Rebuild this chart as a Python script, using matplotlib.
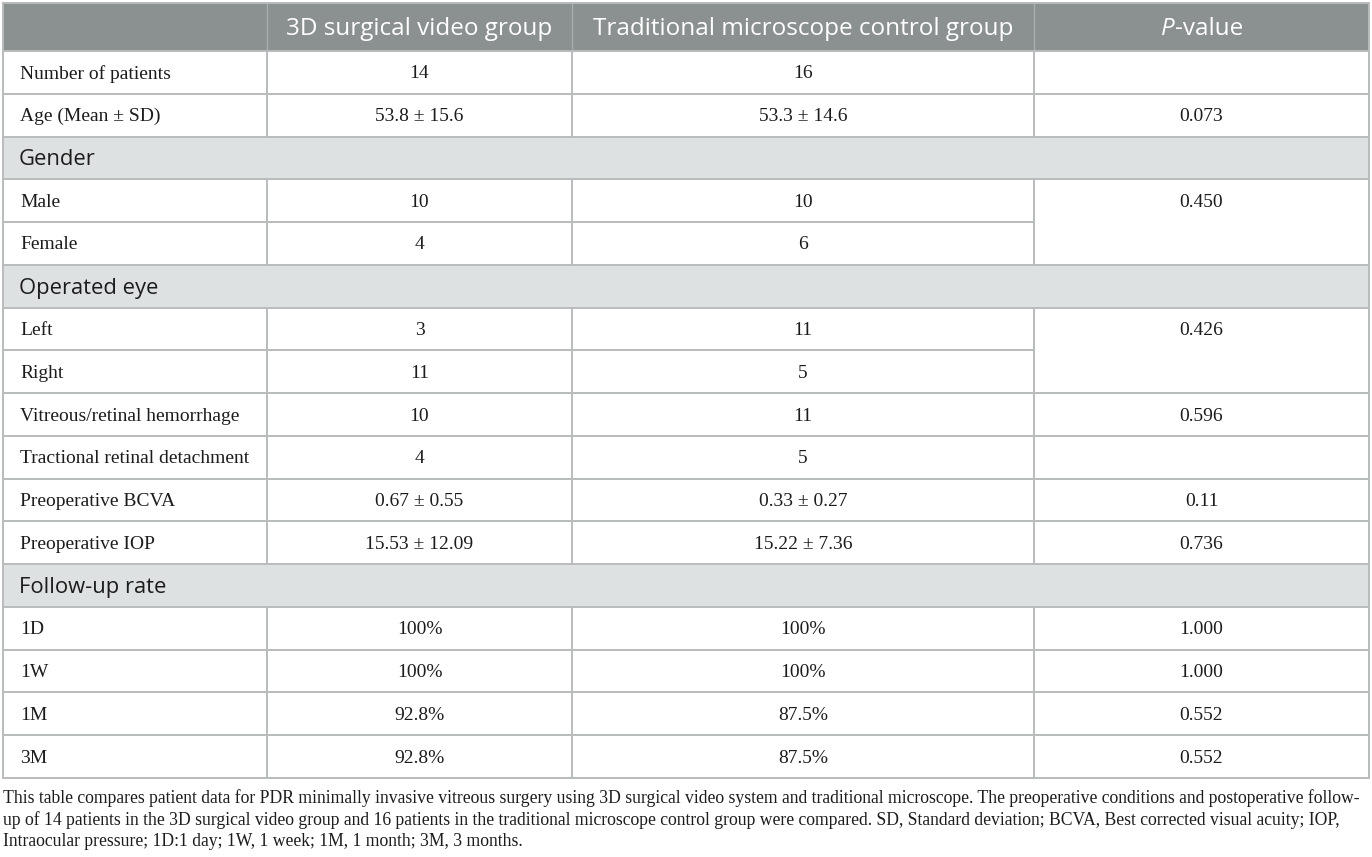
import matplotlib
matplotlib.use("Agg")
import matplotlib.pyplot as plt
from matplotlib.patches import Rectangle

# ---------------- data ----------------
col_headers = ["", "3D surgical video group", "Traditional microscope control group", "P-value"]
row_labels = ["Number of patients", "Age (Mean \u00b1 SD)", "Gender", "Male", "Female",
              "Operated eye", "Left", "Right", "Vitreous/retinal hemorrhage",
              "Tractional retinal detachment", "Preoperative BCVA", "Preoperative IOP",
              "Follow-up rate", "1D", "1W", "1M", "3M"]
is_section = [False, False, True, False, False, True, False, False, False,
              False, False, False, True, False, False, False, False]
group_3d = ["14", "53.8 \u00b1 15.6", "", "10", "4", "", "3", "11", "10", "4",
            "0.67 \u00b1 0.55", "15.53 \u00b1 12.09", "", "100%", "100%", "92.8%", "92.8%"]
group_ctrl = ["16", "53.3 \u00b1 14.6", "", "10", "6", "", "11", "5", "11", "5",
              "0.33 \u00b1 0.27", "15.22 \u00b1 7.36", "", "100%", "100%", "87.5%", "87.5%"]
p_values = ["", "0.073", "", "0.450", None, "", "0.426", None, "0.596", "",
            "0.11", "0.736", "", "1.000", "1.000", "0.552", "0.552"]   # None = merged with row above
caption_lines = [
    "This table compares patient data for PDR minimally invasive vitreous surgery using 3D surgical video system and traditional microscope. The preoperative conditions and postoperative follow-",
    "up of 14 patients in the 3D surgical video group and 16 patients in the traditional microscope control group were compared. SD, Standard deviation; BCVA, Best corrected visual acuity; IOP,",
    "Intraocular pressure; 1D:1 day; 1W, 1 week; 1M, 1 month; 3M, 3 months.",
]

# ---------------- layout ----------------
W, H = 1372, 857
col_x = [3, 267, 572, 1034, 1369]
top = 3
header_bottom = 51
table_bottom = 778
n_rows = len(row_labels)
row_h = (table_bottom - header_bottom) / n_rows

header_bg = "#8b9091"
section_bg = "#dde1e2"
line_c = "#b8bcbd"
text_c = "#1c1c1c"
serif = "Liberation Serif"
sans = "Open Sans"
body_fs = 14
head_fs = 17.5
sect_fs = 15.8

fig = plt.figure(figsize=(W / 100, H / 100), dpi=100)
ax = fig.add_axes([0, 0, 1, 1])
ax.set_xlim(0, W)
ax.set_ylim(H, 0)
ax.axis("off")

# header
ax.add_patch(Rectangle((col_x[0], top), col_x[-1] - col_x[0], header_bottom - top,
                       facecolor=header_bg, edgecolor="none"))
hy = (top + header_bottom) / 2 + 2
for j in (1, 2):
    ax.text((col_x[j] + col_x[j + 1]) / 2, hy, col_headers[j], ha="center", va="center",
            color="white", fontsize=head_fs, family=sans)
# P-value header: italic P + "-value"
fig.canvas.draw()
r = fig.canvas.get_renderer()
tP = ax.text(0, hy, "P", ha="left", va="center", color="white", fontsize=head_fs,
             family=sans, style="italic")
tV = ax.text(0, hy, "-value", ha="left", va="center", color="white", fontsize=head_fs, family=sans)
wP = tP.get_window_extent(r).width
wV = tV.get_window_extent(r).width
cx = (col_x[3] + col_x[4]) / 2
x0 = cx - (wP + wV) / 2
tP.set_x(x0)
tV.set_x(x0 + wP + 1)
# header vertical separators (light)
for j in (1, 2, 3):
    ax.plot([col_x[j], col_x[j]], [top, header_bottom], color="#a9adae", lw=1.0)

# body
for i, lab in enumerate(row_labels):
    y0 = header_bottom + i * row_h
    yc = y0 + row_h / 2 + 1.5
    if is_section[i]:
        ax.add_patch(Rectangle((col_x[0], y0), col_x[-1] - col_x[0], row_h,
                               facecolor=section_bg, edgecolor="none"))
        ax.text(col_x[0] + 16, yc + 0.5, lab, ha="left", va="center", color=text_c,
                fontsize=sect_fs, family=sans)
        continue
    ax.text(col_x[0] + 17, yc, lab, ha="left", va="center", color=text_c,
            fontsize=body_fs, family=serif)
    ax.text((col_x[1] + col_x[2]) / 2, yc, group_3d[i], ha="center", va="center",
            color=text_c, fontsize=body_fs, family=serif)
    ax.text((col_x[2] + col_x[3]) / 2, yc, group_ctrl[i], ha="center", va="center",
            color=text_c, fontsize=body_fs, family=serif)
    if p_values[i]:
        ax.text((col_x[3] + col_x[4]) / 2, yc, p_values[i], ha="center", va="center",
                color=text_c, fontsize=body_fs, family=serif)

# horizontal lines
lw = 1.4
ax.plot([col_x[0], col_x[-1]], [top, top], color=line_c, lw=lw)
for i in range(n_rows + 1):
    y = header_bottom + i * row_h
    if i < n_rows and p_values[i] is None:
        ax.plot([col_x[0], col_x[3]], [y, y], color=line_c, lw=lw)
    else:
        ax.plot([col_x[0], col_x[-1]], [y, y], color=line_c, lw=lw)
# vertical lines
for i in range(n_rows):
    y0 = header_bottom + i * row_h
    y1 = y0 + row_h
    ax.plot([col_x[0], col_x[0]], [y0, y1], color=line_c, lw=lw)
    ax.plot([col_x[-1], col_x[-1]], [y0, y1], color=line_c, lw=lw)
    if not is_section[i]:
        for j in (1, 2, 3):
            ax.plot([col_x[j], col_x[j]], [y0, y1], color=line_c, lw=lw)
ax.plot([col_x[0], col_x[0]], [top, header_bottom], color=line_c, lw=lw)
ax.plot([col_x[-1], col_x[-1]], [top, header_bottom], color=line_c, lw=lw)

# caption, scaled so that first line fills the width
cap_fs = 11.5
t0 = ax.text(3, 798, caption_lines[0], ha="left", va="center", color=text_c,
             fontsize=cap_fs, family=serif)
w0 = t0.get_window_extent(r).width
cap_fs = cap_fs * (1362 / w0)
t0.set_fontsize(cap_fs)
for k, line in enumerate(caption_lines[1:], start=1):
    ax.text(3, 798 + 22 * k, line, ha="left", va="center", color=text_c,
            fontsize=cap_fs, family=serif)

fig.savefig("out.png", dpi=100, facecolor="white")
